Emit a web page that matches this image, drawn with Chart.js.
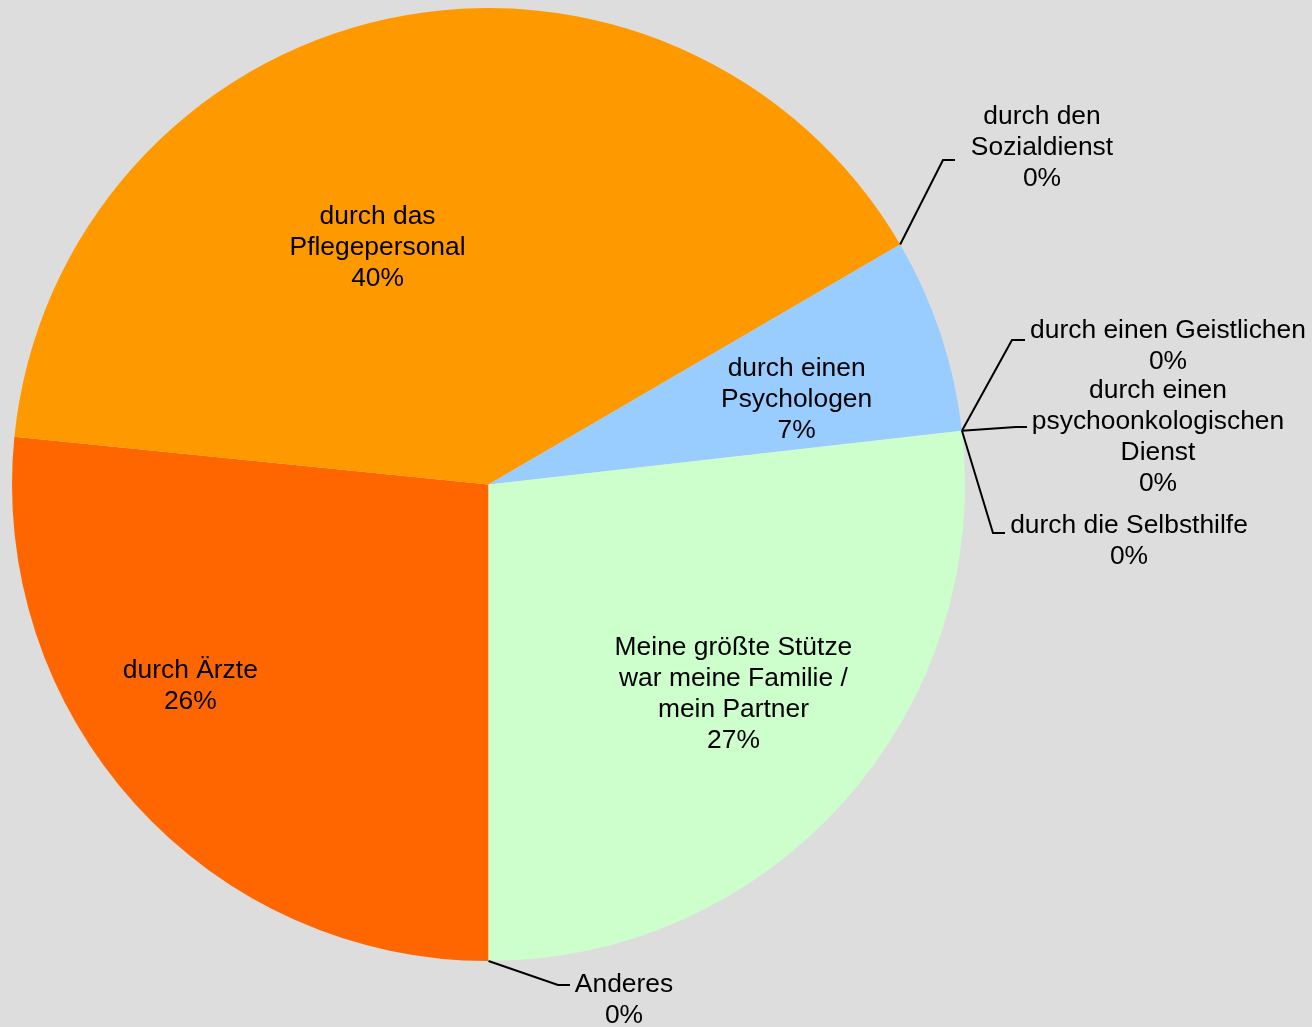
<!DOCTYPE html>
<html>
<head>
<meta charset="utf-8">
<script src="https://cdn.jsdelivr.net/npm/chart.js@4.4.1/dist/chart.umd.min.js"></script>
<style>
  html, body { margin: 0; padding: 0; background: #dddddd; }
  #wrap { width: 1312px; height: 1027px; }
</style>
</head>
<body>
<div id="wrap"><canvas id="pie"></canvas></div>
<script>
// categories, clockwise starting at 6 o'clock
const categories = [
  ['durch Ärzte'],
  ['durch das', 'Pflegepersonal'],
  ['durch den', 'Sozialdienst'],
  ['durch einen', 'Psychologen'],
  ['durch einen Geistlichen'],
  ['durch einen', 'psychoonkologischen', 'Dienst'],
  ['durch die Selbsthilfe'],
  ['Meine größte Stütze', 'war meine Familie /', 'mein Partner'],
  ['Anderes']
];
const shares = [26.6, 40.0, 0, 6.6, 0, 0, 0, 26.8, 0];
const shareLabels = ['26%', '40%', '0%', '7%', '0%', '0%', '0%', '27%', '0%'];
const sliceColors = ['#ff6600', '#ff9900', '#ffffff', '#99ccff', '#ffffff', '#ffffff', '#ffffff', '#ccffcc', '#ffffff'];

// label placement: inside = polar (deg from 12 o'clock, fraction of radius)
// outside = elbow offset from pie centre, horizontal tick length, text offset from elbow
const labelPlace = [
  { inside: true, ang: 236.2, rf: 0.753 },
  { inside: true, ang: 335.1, rf: 0.553 },
  { elbow: [454.5, -324.5], tick: 12, text: [99, -45] },
  { inside: true, ang: 74.2, rf: 0.672 },
  { elbow: [523.5, -144.5], tick: 13, text: [156, -11] },
  { elbow: [527.5, -57.5], tick: 11, text: [142, -38] },
  { elbow: [504.5, 48.5], tick: 12, text: [136, -9] },
  { inside: true, ang: 130.3, rf: 0.674 },
  { elbow: [69.5, 500.5], tick: 12, text: [66, -2] }
];

const FONT = '26.4px "Liberation Sans", Arial, sans-serif';
const LINE_H = 31;
const TEXT_DY = 2;

const pieLabels = {
  id: 'pieLabels',
  afterDatasetsDraw(chart) {
    const ctx = chart.ctx;
    const arcs = chart.getDatasetMeta(0).data;
    ctx.save();
    ctx.font = FONT;
    ctx.fillStyle = '#000';
    ctx.textAlign = 'center';
    ctx.textBaseline = 'middle';
    ctx.strokeStyle = '#000';
    ctx.lineWidth = 2;
    arcs.forEach((arc, i) => {
      const p = arc.getProps(['x', 'y', 'startAngle', 'outerRadius'], true);
      const lines = categories[i].concat([shareLabels[i]]);
      const pl = labelPlace[i];
      let tx, ty;
      if (pl.inside) {
        const a = pl.ang * Math.PI / 180;
        tx = p.x + Math.sin(a) * pl.rf * p.outerRadius;
        const cy = p.y - Math.cos(a) * pl.rf * p.outerRadius;
        ty = cy - (lines.length - 1) * LINE_H / 2;
      } else {
        const sx = p.x + Math.cos(p.startAngle) * p.outerRadius;
        const sy = p.y + Math.sin(p.startAngle) * p.outerRadius;
        const ex = p.x + pl.elbow[0];
        const ey = p.y + pl.elbow[1];
        ctx.beginPath();
        ctx.moveTo(sx, sy);
        ctx.lineTo(ex, ey);
        ctx.lineTo(ex + pl.tick, ey);
        ctx.stroke();
        tx = ex + pl.text[0];
        ty = ey + pl.text[1];
      }
      lines.forEach((t, k) => ctx.fillText(t, tx, ty + TEXT_DY + k * LINE_H));
    });
    ctx.restore();
  }
};

new Chart(document.getElementById('pie'), {
  type: 'pie',
  data: {
    labels: categories.map(c => c.join(' ')),
    datasets: [{
      data: shares,
      backgroundColor: sliceColors,
      borderWidth: 0,
      hoverOffset: 0
    }]
  },
  options: {
    responsive: true,
    maintainAspectRatio: false,
    animation: false,
    events: [],
    rotation: 180,
    layout: { padding: { left: 12, top: 8, right: 347, bottom: 66 } },
    plugins: {
      legend: { display: false },
      tooltip: { enabled: false }
    }
  },
  plugins: [pieLabels]
});
</script>
</body>
</html>
